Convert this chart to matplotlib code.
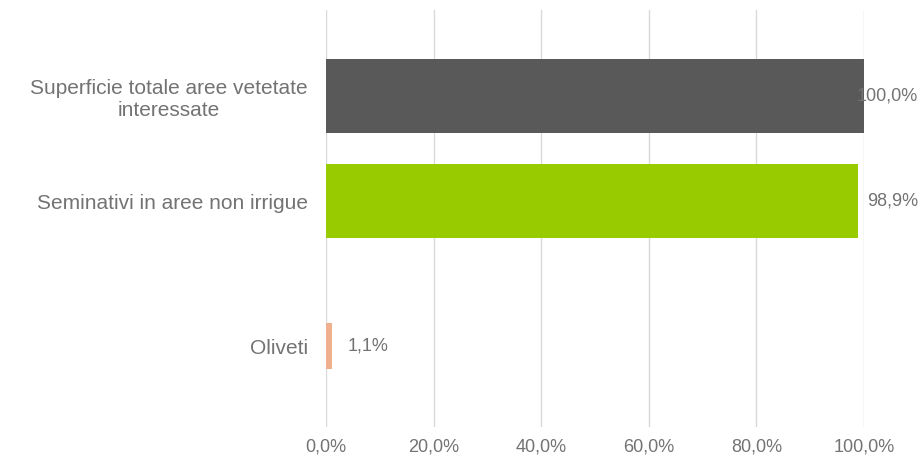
import matplotlib
matplotlib.use("Agg")

import matplotlib.pyplot as plt
from matplotlib.ticker import FuncFormatter

CATEGORIES = ['Superficie totale aree vetetate\ninteressate',
              'Seminativi in aree non irrigue',
              'Oliveti']
VALUES = [100.0, 98.9, 1.1]
COLORS = ['#595959', '#99cc00', '#f0b08e']
XTICKS = [0, 20, 40, 60, 80, 100]

TEXT = '#737373'
FONT = 'Liberation Sans'


def fmt_pct(v, pos=None):
    return ('%.1f%%' % v).replace('.', ',')


def build_chart():
    fig = plt.figure(figsize=(9.23, 4.66), dpi=100)
    ax = fig.add_axes([326 / 923, 39 / 466, 538 / 923, 417 / 466])

    # bar layout as seen in the picture (slightly uneven spacing)
    ypos = [0.0, 1.0, 2.38]
    heights = [0.70, 0.70, 0.44]

    ax.barh(ypos, VALUES, height=heights, color=COLORS, zorder=3)

    # value labels; the ones that would run off the right edge are pushed back in
    right_edge = 110.0
    for y, v in zip(ypos, VALUES):
        if v > 90:
            ax.text(right_edge, y, fmt_pct(v), ha='right', va='center', color=TEXT,
                    fontsize=13, family=FONT, zorder=4, clip_on=False)
        else:
            ax.text(v + 3.0, y, fmt_pct(v), ha='left', va='center', color=TEXT,
                    fontsize=13, family=FONT, zorder=4)

    ax.set_xlim(0, 100)
    ax.set_ylim(3.15, -0.82)
    ax.set_xticks(XTICKS)
    ax.xaxis.set_major_formatter(FuncFormatter(fmt_pct))
    ax.set_yticks(ypos)
    ax.set_yticklabels(CATEGORIES)
    for lbl in ax.get_yticklabels():
        lbl.set_multialignment('center')
        lbl.set_fontsize(15)
        lbl.set_family(FONT)
    for lbl in ax.get_xticklabels():
        lbl.set_fontsize(13)
        lbl.set_family(FONT)

    ax.grid(axis='x', color='#d9d9d9', linewidth=1, zorder=0)
    for s in ax.spines.values():
        s.set_visible(False)
    ax.tick_params(axis='both', length=0, colors=TEXT)
    ax.tick_params(axis='y', pad=13)
    ax.tick_params(axis='x', pad=8)
    return fig


if __name__ == "__main__":
    fig = build_chart()
    fig.savefig('out.png', dpi=100, facecolor='white')
